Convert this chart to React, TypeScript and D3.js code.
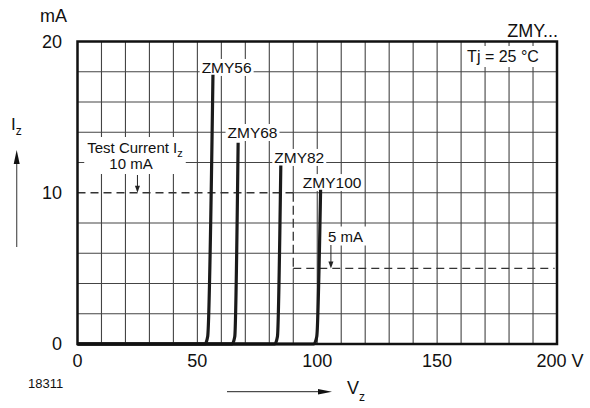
import React, { useLayoutEffect, useRef, useState } from "react";
import * as d3 from "d3";

// ---- data ----
const VOLT_TICKS = [0, 50, 100, 150, 200];
const VOLT_TICK_LABELS = ["0", "50", "100", "150", "200 V"];
const CURRENT_TICKS = [0, 10, 20];
const VOLT_GRID = d3.range(10, 200, 10);
const CURRENT_GRID = d3.range(2, 20, 2);

const SERIES_NAMES = ["ZMY56", "ZMY68", "ZMY82", "ZMY100"];
const ZMY56_V = [0, 53.2, 54.3, 56.5];
const ZMY56_I = [0, 0, 0.5, 17.8];
const ZMY68_V = [0, 64.5, 65.6, 67.0];
const ZMY68_I = [0, 0, 0.5, 13.3];
const ZMY82_V = [0, 82.3, 83.4, 84.8];
const ZMY82_I = [0, 0, 0.5, 11.8];
const ZMY100_V = [0, 98.6, 99.8, 101.4];
const ZMY100_I = [0, 0, 0.5, 10.2];
const SERIES_V = [ZMY56_V, ZMY68_V, ZMY82_V, ZMY100_V];
const SERIES_I = [ZMY56_I, ZMY68_I, ZMY82_I, ZMY100_I];
// label anchor (centre, baseline) in data units
const LABEL_V = [62.2, 73.0, 92.5, 106.2];
const LABEL_I = [17.92, 13.62, 11.97, 10.31];

const TEST_CURRENT = 10; // mA
const REDUCED_CURRENT = 5; // mA
const REDUCED_FROM_V = 90;

const W = 590;
const H = 408;
const FONT = "'Liberation Sans', Arial, Helvetica, sans-serif";

function BoxText({ children, padX = 3, padY = 1 }: { children: React.ReactNode; padX?: number; padY?: number }) {
  const ref = useRef<SVGGElement>(null);
  const [bb, setBb] = useState<{ x: number; y: number; w: number; h: number } | null>(null);
  useLayoutEffect(() => {
    if (ref.current) {
      const b = ref.current.getBBox();
      setBb({ x: b.x, y: b.y, w: b.width, h: b.height });
    }
  }, []);
  return (
    <g>
      {bb && (
        <rect x={bb.x - padX} y={bb.y - padY} width={bb.w + 2 * padX} height={bb.h + 2 * padY} fill="white" />
      )}
      <g ref={ref}>{children}</g>
    </g>
  );
}

export default function App() {
  const x = d3.scaleLinear().domain([0, 200]).range([77.5, 557]);
  const y = d3.scaleLinear().domain([0, 20]).range([344, 41.5]);

  const grid = "#444";
  const dash = "#333";

  const paths = SERIES_V.map((vs, si) => {
    const pts = vs.map((v, i) => [x(v), y(SERIES_I[si][i])] as [number, number]);
    return d3.line().curve(d3.curveMonotoneX)(pts) as string;
  });

  const arrowDown = (cx: number, y0: number, y1: number) => (
    <g>
      <line x1={cx} x2={cx} y1={y0} y2={y1 - 6} stroke="#222" strokeWidth={1} />
      <path d={`M${cx - 2.5},${y1 - 7} L${cx + 2.5},${y1 - 7} L${cx},${y1} Z`} fill="#222" />
    </g>
  );

  return (
    <svg width={W} height={H} style={{ position: "absolute", left: 0, top: 0, background: "white" }} fontFamily={FONT}>
      {/* grid verticals */}
      {VOLT_GRID.map((v) =>
        v === REDUCED_FROM_V ? (
          <g key={v}>
            <line x1={x(v)} x2={x(v)} y1={y(0)} y2={y(REDUCED_CURRENT)} stroke={grid} strokeWidth={1.1} />
            <line x1={x(v)} x2={x(v)} y1={y(TEST_CURRENT)} y2={y(20)} stroke={grid} strokeWidth={1.1} />
          </g>
        ) : (
          <line key={v} x1={x(v)} x2={x(v)} y1={y(0)} y2={y(20)} stroke={grid} strokeWidth={1.1} />
        )
      )}
      {/* grid horizontals */}
      {CURRENT_GRID.map((c) =>
        c === TEST_CURRENT ? (
          <line key={c} x1={x(REDUCED_FROM_V)} x2={x(200)} y1={y(c)} y2={y(c)} stroke={grid} strokeWidth={1.1} />
        ) : (
          <line key={c} x1={x(0)} x2={x(200)} y1={y(c)} y2={y(c)} stroke={grid} strokeWidth={1.1} />
        )
      )}
      {/* dashed test-current guides */}
      <line
        x1={x(0)}
        x2={x(REDUCED_FROM_V)}
        y1={y(TEST_CURRENT)}
        y2={y(TEST_CURRENT)}
        stroke={dash}
        strokeWidth={1.3}
        strokeDasharray="8,5"
      />
      <line
        x1={x(REDUCED_FROM_V)}
        x2={x(REDUCED_FROM_V)}
        y1={y(TEST_CURRENT)}
        y2={y(REDUCED_CURRENT)}
        stroke={dash}
        strokeWidth={1.3}
        strokeDasharray="9,4"
      />
      <line
        x1={x(REDUCED_FROM_V)}
        x2={x(199)}
        y1={y(REDUCED_CURRENT)}
        y2={y(REDUCED_CURRENT)}
        stroke={dash}
        strokeWidth={1.3}
        strokeDasharray="8,5"
      />

      {/* annotations */}
      <BoxText padX={3} padY={2}>
        <text x={135} y={153} fontSize={15} textAnchor="middle" fill="#111">
          Test Current I
          <tspan fontSize={11} dy={4}>
            z
          </tspan>
        </text>
        <text x={131} y={169} fontSize={15} textAnchor="middle" fill="#111">
          10 mA
        </text>
      </BoxText>
      {arrowDown(x(25), 175, y(TEST_CURRENT))}

      <BoxText padX={3} padY={1}>
        <text x={345.5} y={241.5} fontSize={15} textAnchor="middle" fill="#111">
          5 mA
        </text>
      </BoxText>
      {arrowDown(x(105.7), 245, y(REDUCED_CURRENT))}

      <BoxText padX={4} padY={2}>
        <text x={503} y={62} fontSize={16} textAnchor="middle" fill="#111">
          Tj = 25 °C
        </text>
      </BoxText>

      {SERIES_NAMES.map((n, i) => (
        <BoxText key={n} padX={2} padY={0}>
          <text x={x(LABEL_V[i])} y={y(LABEL_I[i])} fontSize={15.5} textAnchor="middle" fill="#111">
            {n}
          </text>
        </BoxText>
      ))}

      {/* curves */}
      {paths.map((d, i) => (
        <path key={i} d={d} fill="none" stroke="#1a1a1a" strokeWidth={3.2} strokeLinejoin="round" />
      ))}

      {/* frame */}
      <rect x={x(0)} y={y(20)} width={x(200) - x(0)} height={y(0) - y(20)} fill="none" stroke="#111" strokeWidth={2.5} />

      {/* tick labels */}
      {VOLT_TICKS.map((v, i) => (
        <text
          key={v}
          x={i === VOLT_TICKS.length - 1 ? x(v) - 20.5 : x(v)}
          y={367}
          fontSize={18}
          textAnchor={i === VOLT_TICKS.length - 1 ? "start" : "middle"}
          fill="#111"
        >
          {VOLT_TICK_LABELS[i]}
        </text>
      ))}
      {CURRENT_TICKS.map((c) => (
        <text key={c} x={62} y={y(c) + 6} fontSize={18} textAnchor="end" fill="#111">
          {c}
        </text>
      ))}
      <text x={40} y={22} fontSize={18} fill="#111">
        mA
      </text>
      <text x={558} y={37} fontSize={18} textAnchor="end" fill="#111">
        ZMY...
      </text>
      <text x={28} y={388} fontSize={13} fill="#111">
        18311
      </text>

      {/* y axis arrow + label */}
      <line x1={16.7} x2={16.7} y1={247} y2={160} stroke="#555" strokeWidth={1.2} />
      <path d="M13.7,164 L19.7,164 L16.7,150 Z" fill="#111" />
      <text x={11} y={130} fontSize={17} fill="#111">
        I
        <tspan fontSize={12} dy={5}>
          z
        </tspan>
      </text>

      {/* x axis arrow + label */}
      <line x1={227} x2={320} y1={391.7} y2={391.7} stroke="#222" strokeWidth={1} />
      <path d="M318,389 L318,394.4 L332,391.7 Z" fill="#111" />
      <text x={347} y={393.5} fontSize={18} fill="#111">
        V
        <tspan fontSize={12} dy={7}>
          z
        </tspan>
      </text>
    </svg>
  );
}
